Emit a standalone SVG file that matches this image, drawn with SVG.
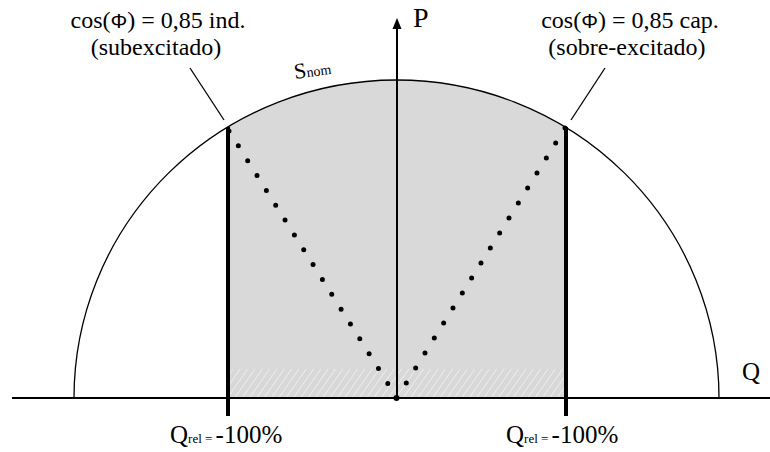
<svg xmlns="http://www.w3.org/2000/svg" width="770" height="452" viewBox="0 0 770 452">
<style>
.t{font-family:"Liberation Serif","Times New Roman",serif;fill:#000}
.big{font-size:24px}
.sub{font-size:13px}
.thin{fill:none;stroke:#000;stroke-width:1.3}
.ax{fill:none;stroke:#000;stroke-width:2}
.lim{fill:none;stroke:#000;stroke-width:4}
.dot{fill:none;stroke:#000;stroke-width:5;stroke-linecap:round}
</style>
<defs>
<pattern id="hatch" width="6" height="6" patternUnits="userSpaceOnUse" patternTransform="rotate(35)">
<rect width="6" height="6" fill="#d8d8d8"/>
<line x1="0" y1="0" x2="0" y2="6" stroke="#f2f2f2" stroke-width="1.5"/>
</pattern>
</defs>
<g id="area">
<path d="M228,398 L228,126.9 A322.5,318 0 0 1 566,127.5 L566,398 Z" fill="#d9d9d9"/>
<rect x="230" y="369" width="334" height="28" fill="url(#hatch)"/>
</g>
<g id="arc">
<path class="thin" d="M74,398 A322.5,318 0 0 1 719,398"/>
</g>
<g id="connectors">
<line class="ax" x1="12" y1="398" x2="770" y2="398"/>
<line class="ax" x1="397" y1="398" x2="397" y2="26"/>
<polygon points="397,18 392.5,29 401.5,29" fill="#000"/>
<line class="lim" x1="228" y1="127" x2="228" y2="416"/>
<line class="lim" x1="566" y1="127" x2="566" y2="416"/>
<line class="dot" x1="229" y1="131" x2="397" y2="398" stroke-dasharray="0 17.54"/>
<line class="dot" x1="565" y1="128" x2="397" y2="398" stroke-dasharray="0 17.67"/>
<circle cx="396.5" cy="398" r="3" fill="#000"/>
<line class="thin" x1="190" y1="68" x2="224" y2="120"/>
<line class="thin" x1="605" y1="68" x2="571" y2="120"/>
</g>
<g id="label-ind">
<text class="t big" x="158" y="28" text-anchor="middle">cos(<tspan font-family="Liberation Sans,Arial,sans-serif" font-size="21">Φ</tspan>) = 0,85 ind.</text>
<text class="t big" x="156" y="55" text-anchor="middle">(subexcitado)</text>
</g>
<g id="label-cap">
<text class="t big" x="630" y="28" text-anchor="middle">cos(<tspan font-family="Liberation Sans,Arial,sans-serif" font-size="21">Φ</tspan>) = 0,85 cap.</text>
<text class="t big" x="627" y="55" text-anchor="middle">(sobre-excitado)</text>
</g>
<g id="label-P"><text class="t" font-size="28" x="413" y="27">P</text></g>
<g id="label-Q"><text class="t" font-size="25" x="742" y="380">Q</text></g>
<g id="label-Snom">
<text class="t" transform="translate(295,79) rotate(-8)"><tspan font-size="22">S</tspan><tspan font-size="14">nom</tspan></text>
</g>
<g id="label-qrel-left">
<text class="t" x="170" y="443"><tspan font-size="25">Q</tspan><tspan class="sub">rel = </tspan><tspan font-size="25">-100%</tspan></text>
</g>
<g id="label-qrel-right">
<text class="t" x="506" y="443"><tspan font-size="25">Q</tspan><tspan class="sub">rel = </tspan><tspan font-size="25">-100%</tspan></text>
</g>
</svg>
